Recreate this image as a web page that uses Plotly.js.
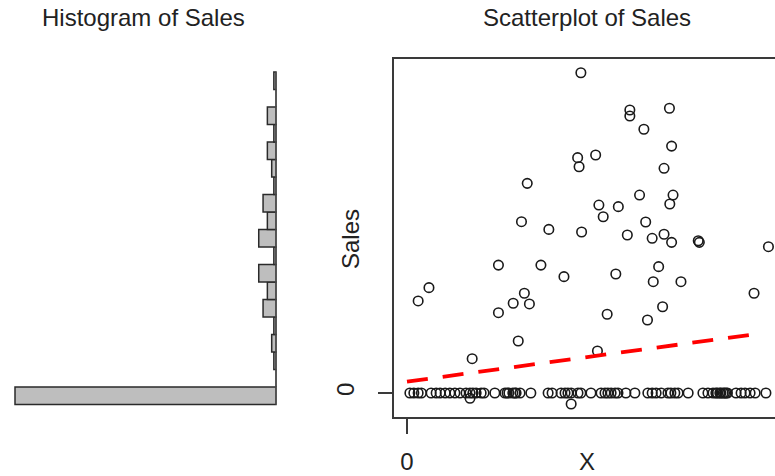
<!DOCTYPE html>
<html>
<head>
<meta charset="utf-8">
<script src="https://cdn.plot.ly/plotly-3.0.1.min.js"></script>
<style>
  html, body { margin: 0; padding: 0; overflow: hidden; background: #fff; }
  #chart { width: 795px; height: 476px; }
</style>
</head>
<body>
<div id="chart"></div>
<script>
// ---------- data ----------
// Histogram of Sales (horizontal), bins of width 1 starting at -0.65
const histBinStart = -0.65;
const histBinSize = 1;
const histCounts = [121, 0, 1, 2, 1, 6, 4, 8, 1, 8, 4, 6, 1, 2, 4, 1, 4, 0, 1];

// Scatterplot: non-zero sales
const salesX = [0.483, 0.619, 0.619, 0.729, 0.658, 0.735, 0.474, 0.478, 0.524, 0.714,
                0.334, 0.646, 0.739, 0.730, 0.533, 0.587, 0.545, 0.318, 0.394, 0.485,
                0.663, 0.612, 0.681, 0.714, 0.735, 0.809, 0.812, 1.004, 0.254, 0.372,
                0.580, 0.699, 0.436, 0.684, 0.761, 0.061, 0.031, 0.326, 0.295, 0.340,
                0.964, 0.254, 0.556, 0.710, 0.668, 0.309, 0.181, 0.529, 0.175, 0.456];
const salesY = [18.30, 16.17, 15.83, 16.27, 15.07, 14.11, 13.45, 12.93, 13.60, 12.84,
                11.98, 11.31, 11.31, 10.80, 10.74, 10.65, 10.07, 9.79, 9.35, 9.20,
                9.77, 9.03, 8.84, 9.07, 8.61, 8.70, 8.61, 8.36, 7.31, 7.31,
                6.80, 7.22, 6.65, 6.36, 6.36, 6.02, 5.26, 5.70, 5.13, 5.09,
                5.70, 4.59, 4.50, 4.93, 4.17, 2.97, 1.96, 2.40, -0.30, -0.63];

// Scatterplot: zero sales (X positions)
const zeroX = [0.008, 0.019, 0.031, 0.040, 0.067, 0.081, 0.092, 0.106, 0.119, 0.133,
               0.147, 0.164, 0.175, 0.183, 0.192, 0.206, 0.214, 0.244, 0.272, 0.278,
               0.283, 0.294, 0.300, 0.303, 0.314, 0.344, 0.392, 0.403, 0.428, 0.439,
               0.447, 0.456, 0.475, 0.483, 0.511, 0.539, 0.550, 0.558, 0.567, 0.578,
               0.586, 0.608, 0.633, 0.669, 0.681, 0.692, 0.706, 0.725, 0.733, 0.744,
               0.753, 0.781, 0.822, 0.836, 0.850, 0.858, 0.862, 0.869, 0.872, 0.878,
               0.882, 0.886, 0.890, 0.914, 0.928, 0.939, 0.953, 0.967, 0.997];
const zeroY = zeroX.map(() => 0);

// Fitted (red dashed) line
const fitX = [0, 0.25, 0.5, 0.75, 0.97];
const fitY = [0.65, 1.35, 2.05, 2.76, 3.37];

// Text
const histTitle = 'Histogram of Sales';
const scatTitle = 'Scatterplot of Sales';
const xLabel = 'X';
const yLabel = 'Sales';
const xTickVals = [0], xTickText = ['0'];
const yTickVals = [0], yTickText = ['0'];

// ---------- layout helpers (pixel geometry) ----------
const W = 795, H = 476;
const px = v => v / W;
const py = v => (H - v) / H;

const binCenters = histCounts.map((c, i) => histBinStart + histBinSize * (i + 0.5));
const binEnd = histBinStart + histBinSize * histCounts.length;

const FONT = 'Liberation Sans, Arial, sans-serif';
const TXT = '#222';
const AX = '#3a3a3a';
const FS = 24;

const traces = [
  {
    type: 'bar', orientation: 'h',
    x: histCounts, y: binCenters, width: histBinSize,
    xaxis: 'x2', yaxis: 'y2',
    marker: { color: '#bebebe', line: { color: '#2a2a2a', width: 1.5 } },
    hoverinfo: 'skip'
  },
  {
    type: 'scatter', mode: 'lines',
    x: [0, 0], y: [histBinStart, binEnd],
    xaxis: 'x2', yaxis: 'y2',
    line: { color: '#555', width: 1.2 },
    hoverinfo: 'skip'
  },
  {
    type: 'scatter', mode: 'markers',
    x: zeroX, y: zeroY,
    marker: { symbol: 'circle-open', size: 9.5, color: '#1a1a1a', line: { width: 1.6 } },
    hoverinfo: 'skip'
  },
  {
    type: 'scatter', mode: 'markers',
    x: salesX, y: salesY,
    marker: { symbol: 'circle-open', size: 9.5, color: '#1a1a1a', line: { width: 1.6 } },
    hoverinfo: 'skip'
  },
  {
    type: 'scatter', mode: 'lines',
    x: fitX, y: fitY,
    line: { color: '#ff0000', width: 3.8, dash: '21px,15px' },
    hoverinfo: 'skip'
  }
];

const yDomain = [py(417), py(59)];
const yRange = [(393 - 417) / 17.5, (393 - 59) / 17.5];

const layout = {
  width: W, height: H,
  margin: { l: 0, r: 0, t: 0, b: 0 },
  paper_bgcolor: '#fff', plot_bgcolor: '#fff',
  showlegend: false,
  font: { family: FONT, color: TXT, size: FS },
  xaxis: {
    domain: [px(393.5), px(783)],
    range: [(393.5 - 407) / 360, (783 - 407) / 360],
    showgrid: false, zeroline: false,
    showline: true, mirror: true, linecolor: AX, linewidth: 1.6,
    ticks: 'outside', ticklen: 15, tickwidth: 1.6, tickcolor: AX,
    tickvals: xTickVals, ticktext: xTickText,
    tickfont: { size: FS, color: TXT, family: FONT },
    ticklabelstandoff: 8
  },
  yaxis: {
    domain: yDomain, range: yRange, anchor: 'x',
    showgrid: false, zeroline: false,
    showline: true, mirror: true, linecolor: AX, linewidth: 1.6,
    ticks: 'outside', ticklen: 14, tickwidth: 1.6, tickcolor: AX,
    tickvals: yTickVals, ticktext: yTickText, tickangle: -90,
    tickfont: { size: FS, color: TXT, family: FONT },
    ticklabelstandoff: 14
  },
  xaxis2: {
    domain: [px(5), px(286)],
    range: [(276 - 5) / 2.157, (276 - 286) / 2.157],
    visible: false, anchor: 'y2'
  },
  yaxis2: {
    domain: yDomain, range: yRange, anchor: 'x2',
    visible: false
  },
  annotations: [
    { text: histTitle, xref: 'paper', yref: 'paper', x: px(143), y: py(18),
      xanchor: 'center', yanchor: 'middle', showarrow: false,
      font: { size: FS, color: TXT, family: FONT } },
    { text: scatTitle, xref: 'paper', yref: 'paper', x: px(587), y: py(18),
      xanchor: 'center', yanchor: 'middle', showarrow: false,
      font: { size: FS, color: TXT, family: FONT } },
    { text: yLabel, xref: 'paper', yref: 'paper', x: px(350), y: py(239),
      xanchor: 'center', yanchor: 'middle', showarrow: false, textangle: -90,
      font: { size: FS, color: TXT, family: FONT } },
    { text: xLabel, xref: 'paper', yref: 'paper', x: px(587), y: py(461),
      xanchor: 'center', yanchor: 'middle', showarrow: false,
      font: { size: FS, color: TXT, family: FONT } }
  ]
};

Plotly.newPlot('chart', traces, layout, { staticPlot: true, displayModeBar: false });
</script>
</body>
</html>
